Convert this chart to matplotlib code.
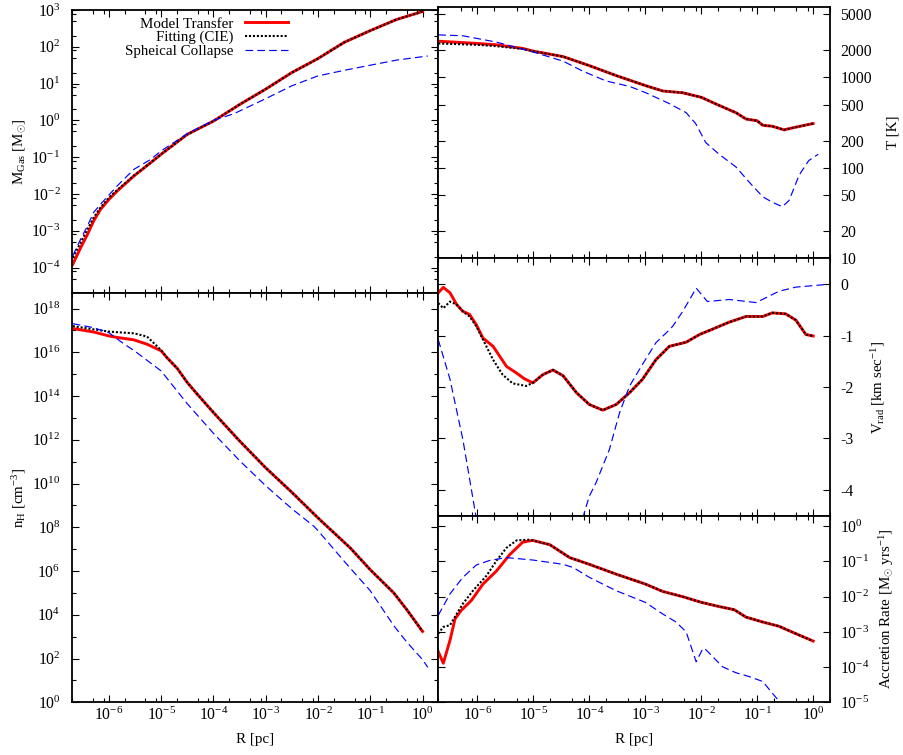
import numpy as np
import matplotlib
matplotlib.use("Agg")
import matplotlib.pyplot as plt
from matplotlib.ticker import FixedLocator, FuncFormatter, NullLocator, NullFormatter

plt.rcParams.update({
    "font.family": ["Liberation Serif", "DejaVu Serif"],
    "font.size": 10.8,
    "xtick.labelsize": 11.3,
    "ytick.labelsize": 11.3,
    "mathtext.fontset": "custom",
    "mathtext.rm": "Liberation Serif",
    "mathtext.it": "Liberation Serif:italic",
    "mathtext.bf": "Liberation Serif:bold",
    "axes.linewidth": 1.3,
})

# ---------------------------------------------------------------------------
# Profiles (radius and log-axis quantities stored as log10 values)
# ---------------------------------------------------------------------------
# Enclosed gas mass [Msun]
M_LR_MODEL = [-6.69, -6.54, -6.41, -6.29, -6.16, -6.0, -5.84, -5.52, -5.2, -5.0,
              -4.5, -4.0, -3.5, -3.0, -2.5, -2.0, -1.5, -1.0, -0.5, 0.0]
M_MODEL = [-3.91, -3.46, -3.10, -2.73, -2.42, -2.15, -1.92, -1.51, -1.15, -0.92,
           -0.38, -0.02, 0.43, 0.85, 1.30, 1.68, 2.12, 2.44, 2.74, 2.96]
M_FIT = [-3.73, -3.32, -2.96, -2.64, -2.37, -2.10, -1.89, -1.50, -1.15, -0.92,
         -0.38, -0.02, 0.43, 0.85, 1.30, 1.68, 2.12, 2.44, 2.74, 2.96]
M_LR_COLLAPSE = [-6.69, -6.54, -6.41, -6.29, -6.16, -6.0, -5.84, -5.52, -5.2, -5.0,
                 -4.5, -4.0, -3.61, -3.0, -2.5, -2.0, -1.5, -1.0, -0.49, 0.1]
M_COLLAPSE = [-3.68, -3.23, -2.87, -2.5, -2.28, -2.03, -1.78, -1.33, -1.06, -0.83,
              -0.36, 0.0, 0.18, 0.59, 0.94, 1.21, 1.36, 1.50, 1.64, 1.75]

# Hydrogen number density [cm^-3]
N_LR_MODEL = [-6.69, -6.29, -6.0, -5.84, -5.52, -5.27, -5.0, -4.89, -4.69, -4.5,
              -4.31, -4.0, -3.5, -3.0, -2.5, -2.0, -1.38, -1.0, -0.55, -0.3, 0.0]
N_MODEL = [17.09, 16.93, 16.75, 16.68, 16.57, 16.37, 16.07, 15.76, 15.26, 14.62,
           14.09, 13.25, 11.95, 10.72, 9.6, 8.43, 7.05, 6.06, 5.0, 4.23, 3.24]
N_FIT = [17.2, 17.05, 16.95, 16.92, 16.87, 16.72, 16.1, 15.76, 15.26, 14.62,
         14.09, 13.25, 11.95, 10.72, 9.6, 8.43, 7.05, 6.06, 5.0, 4.23, 3.24]
N_LR_COLLAPSE = [-6.69, -6.3, -6.0, -5.75, -5.5, -5.0, -4.5, -4.0, -3.5, -3.0,
                 -2.5, -2.08, -2.0, -1.5, -1.0, -0.55, -0.3, 0.0, 0.1]
N_COLLAPSE = [17.31, 17.13, 16.9, 16.45, 16.05, 15.15, 13.65, 12.3, 11.05, 9.9,
              8.85, 8.05, 7.85, 6.45, 5.1, 3.5, 2.75, 1.95, 1.6]

# Temperature [K]
T_LR_MODEL = [-6.70, -6.0, -5.66, -5.19, -5.0, -4.47, -4.0, -3.52, -3.0, -2.69,
              -2.33, -2.0, -1.68, -1.38, -1.2, -1.0, -0.9, -0.73, -0.52, -0.31, 0.0]
T_MODEL = [3.40, 3.375, 3.36, 3.32, 3.29, 3.23, 3.13, 3.02, 2.91, 2.85,
           2.83, 2.78, 2.69, 2.61, 2.54, 2.52, 2.47, 2.46, 2.42, 2.45, 2.49]
T_FIT = [3.375, 3.36, 3.345, 3.315, 3.29, 3.23, 3.13, 3.02, 2.91, 2.85,
         2.83, 2.78, 2.69, 2.61, 2.54, 2.52, 2.47, 2.46, 2.42, 2.45, 2.49]
T_LR_COLLAPSE = [-6.70, -6.26, -5.66, -5.0, -4.47, -4.12, -3.7, -3.28, -2.99, -2.57,
                 -2.27, -2.1, -1.92, -1.68, -1.38, -1.14, -0.9, -0.73, -0.55, -0.43,
                 -0.25, -0.08, 0.09]
T_COLLAPSE = [3.47, 3.46, 3.39, 3.28, 3.18, 3.07, 2.96, 2.90, 2.83, 2.71,
              2.61, 2.49, 2.28, 2.15, 2.01, 1.84, 1.68, 1.62, 1.57, 1.64,
              1.92, 2.08, 2.15]

# Radial velocity [km/s] (linear)
V_LR_MODEL = [-6.70, -6.61, -6.49, -6.37, -6.26, -6.14, -6.02, -5.90, -5.72, -5.48,
              -5.30, -5.16, -5.01, -4.83, -4.65, -4.47, -4.23, -4.0, -3.76, -3.52,
              -3.28, -3.05, -2.81, -2.57, -2.27, -2.03, -1.74, -1.50, -1.20, -0.90,
              -0.73, -0.49, -0.31, -0.13, 0.0]
V_MODEL = [-0.17, -0.065, -0.17, -0.40, -0.53, -0.59, -0.79, -1.05, -1.21, -1.60,
           -1.73, -1.84, -1.92, -1.76, -1.67, -1.78, -2.11, -2.34, -2.45, -2.34,
           -2.11, -1.85, -1.47, -1.21, -1.13, -0.98, -0.85, -0.74, -0.63, -0.63,
           -0.56, -0.58, -0.70, -0.98, -1.01]
V_LR_FIT = [-6.70, -6.61, -6.49, -6.37, -6.26, -6.14, -6.02, -5.90, -5.72, -5.55,
            -5.37, -5.13, -5.01, -4.83, -4.65, -4.47, -4.23, -4.0, -3.76, -3.52,
            -3.28, -3.05, -2.81, -2.57, -2.27, -2.03, -1.74, -1.50, -1.20, -0.90,
            -0.73, -0.49, -0.31, -0.13, 0.0]
V_FIT = [-0.37, -0.47, -0.34, -0.40, -0.53, -0.63, -0.82, -1.08, -1.47, -1.76,
         -1.93, -1.98, -1.92, -1.76, -1.67, -1.78, -2.11, -2.34, -2.45, -2.34,
         -2.11, -1.85, -1.47, -1.21, -1.13, -0.98, -0.85, -0.74, -0.63, -0.63,
         -0.56, -0.58, -0.70, -0.98, -1.01]
V_LR_COLLAPSE = [-6.70, -6.49, -6.26, -6.02, -5.0, -4.12, -4.0, -3.88, -3.64, -3.46,
                 -3.28, -3.05, -2.81, -2.57, -2.51, -2.33, -2.09, -1.89, -1.50, -1.02,
                 -0.61, -0.31, 0.22]
V_COLLAPSE = [-1.08, -1.85, -3.02, -4.55, np.nan, -4.55, -4.12, -3.86, -3.21, -2.5,
              -1.98, -1.56, -1.14, -0.89, -0.82, -0.53, -0.08, -0.34, -0.30, -0.36,
              -0.14, -0.06, -0.01]

# Accretion rate [Msun/yr]
A_LR_MODEL = [-6.70, -6.61, -6.49, -6.40, -6.29, -6.11, -5.90, -5.66, -5.42, -5.19,
              -5.01, -4.71, -4.35, -4.0, -3.52, -3.0, -2.69, -2.33, -2.0, -1.68,
              -1.41, -1.20, -0.90, -0.61, -0.31, 0.0]
A_MODEL = [-3.56, -3.89, -3.24, -2.63, -2.39, -2.11, -1.64, -1.27, -0.80, -0.45,
           -0.40, -0.52, -0.89, -1.08, -1.36, -1.64, -1.85, -2.00, -2.16, -2.28,
           -2.37, -2.58, -2.72, -2.84, -3.05, -3.26]
A_LR_FIT = [-6.70, -6.61, -6.49, -6.37, -6.26, -6.08, -5.84, -5.66, -5.48, -5.30,
            -5.07, -4.71, -4.35, -4.0, -3.52, -3.0, -2.69, -2.33, -2.0, -1.68,
            -1.41, -1.20, -0.90, -0.61, -0.31, 0.0]
A_FIT = [-3.05, -2.86, -2.81, -2.49, -2.2, -1.83, -1.41, -0.98, -0.61, -0.40,
         -0.38, -0.52, -0.89, -1.08, -1.36, -1.64, -1.85, -2.00, -2.16, -2.28,
         -2.37, -2.58, -2.72, -2.84, -3.05, -3.26]
A_LR_COLLAPSE = [-6.70, -6.49, -6.26, -6.02, -5.78, -5.48, -5.0, -4.47, -4.29, -4.0,
                 -3.52, -3.0, -2.69, -2.45, -2.27, -2.09, -1.97, -1.92, -1.62, -1.38,
                 -1.14, -0.90, -0.73, -0.58]
A_COLLAPSE = [-2.53, -1.92, -1.45, -1.10, -0.97, -0.89, -0.96, -1.08, -1.17, -1.45,
              -1.83, -2.16, -2.49, -2.72, -3.0, -3.85, -3.47, -3.50, -3.99, -4.16,
              -4.27, -4.41, -4.74, -5.02]

SERIES_LABELS = ["Model Transfer", "Fitting (CIE)", "Spheical Collapse"]
T_TICKS = [10, 20, 50, 100, 200, 500, 1000, 2000, 5000]
V_TICKS = [-4, -3, -2, -1, 0]


def p10(a):
    return np.power(10.0, np.asarray(a, dtype=float))


# ---------------------------------------------------------------------------
# Layout
# ---------------------------------------------------------------------------
W, H = 904, 755
fig = plt.figure(figsize=(W / 100, H / 100), dpi=100)


def rect(x0, x1, ytop, ybot):
    return [x0 / W, 1 - ybot / H, (x1 - x0) / W, (ybot - ytop) / H]


LX0, LX1, RX0, RX1 = 72.3, 438.3, 438.3, 830.0
ax_m = fig.add_axes(rect(LX0, LX1, 10.0, 293.3))
ax_n = fig.add_axes(rect(LX0, LX1, 293.3, 702.3))
ax_t = fig.add_axes(rect(RX0, RX1, 7.0, 258.3))
ax_v = fig.add_axes(rect(RX0, RX1, 258.3, 515.7))
ax_a = fig.add_axes(rect(RX0, RX1, 515.7, 702.3))

RED, BLACK, BLUE = "#ff0000", "#000000", "#0000ff"


def draw(ax, r1, y1, r2, y2, r3, y3, log_y=True):
    f = p10 if log_y else (lambda a: np.asarray(a, dtype=float))
    ax.plot(p10(r1), f(y1), color=RED, lw=2.1, label=SERIES_LABELS[0],
            solid_joinstyle="round")
    ax.plot(p10(r2), f(y2), color=BLACK, lw=1.5, ls=(0, (1.0, 0.9)),
            dash_capstyle="butt", label=SERIES_LABELS[1])
    ax.plot(p10(r3), f(y3), color=BLUE, lw=0.85, ls=(0, (6.5, 3.5)),
            label=SERIES_LABELS[2])


draw(ax_m, M_LR_MODEL, M_MODEL, M_LR_MODEL, M_FIT, M_LR_COLLAPSE, M_COLLAPSE)
draw(ax_n, N_LR_MODEL, N_MODEL, N_LR_MODEL, N_FIT, N_LR_COLLAPSE, N_COLLAPSE)
draw(ax_t, T_LR_MODEL, T_MODEL, T_LR_MODEL, T_FIT, T_LR_COLLAPSE, T_COLLAPSE)
draw(ax_v, V_LR_MODEL, V_MODEL, V_LR_FIT, V_FIT, V_LR_COLLAPSE, V_COLLAPSE,
     log_y=False)
draw(ax_a, A_LR_MODEL, A_MODEL, A_LR_FIT, A_FIT, A_LR_COLLAPSE, A_COLLAPSE)

# ---------------------------------------------------------------------------
# Axes, ticks and labels
# ---------------------------------------------------------------------------
pow_fmt = FuncFormatter(lambda v, p: r"$\mathregular{10^{%d}}$" % int(round(np.log10(v))))
x_major = [10.0 ** k for k in range(-6, 1)]
x_minor = [m * 10.0 ** k for k in range(-7, 1) for m in (2, 5, 8)]

for ax in (ax_m, ax_n, ax_t, ax_v, ax_a):
    ax.set_xscale("log")
    ax.set_xlim(2e-7, 2.0)
    ax.xaxis.set_major_locator(FixedLocator(x_major))
    ax.xaxis.set_minor_locator(FixedLocator(x_minor))
    ax.xaxis.set_major_formatter(pow_fmt)
    ax.xaxis.set_minor_formatter(NullFormatter())
    ax.tick_params(which="both", direction="in", top=True, bottom=True,
                   left=True, right=True, width=0.8)
    ax.tick_params(which="major", length=5.2)
    ax.tick_params(which="minor", length=2.8)
    ax.tick_params(axis="x", pad=3)

for ax in (ax_m, ax_t, ax_v):
    ax.tick_params(axis="x", labelbottom=False)

# Left column
ax_m.set_yscale("log")
ax_m.set_ylim(2e-5, 1e3)
ax_m.yaxis.set_major_locator(FixedLocator([10.0 ** k for k in range(-4, 4)]))
ax_m.yaxis.set_minor_locator(FixedLocator([m * 10.0 ** k for k in range(-5, 3) for m in (2, 5, 8)]))
ax_m.yaxis.set_major_formatter(pow_fmt)

ax_n.set_yscale("log")
ax_n.set_ylim(1.0, 5e18)
ax_n.yaxis.set_major_locator(FixedLocator([10.0 ** k for k in range(0, 19, 2)]))
ax_n.yaxis.set_minor_locator(FixedLocator([10.0 ** k for k in range(1, 19, 2)]))
ax_n.yaxis.set_major_formatter(pow_fmt)

for ax in (ax_m, ax_n):
    ax.yaxis.set_minor_formatter(NullFormatter())
    ax.tick_params(axis="y", labelleft=True, labelright=False, pad=8.5)

# Right column
ax_t.set_yscale("log")
ax_t.set_ylim(10, 6000)
ax_t.yaxis.set_major_locator(FixedLocator(T_TICKS))
ax_t.yaxis.set_minor_locator(NullLocator())
ax_t.yaxis.set_major_formatter(FuncFormatter(lambda v, p: "%d" % round(v)))

ax_v.set_ylim(-4.5, 0.5)
ax_v.yaxis.set_major_locator(FixedLocator(V_TICKS))
ax_v.yaxis.set_minor_locator(NullLocator())
ax_v.yaxis.set_major_formatter(FuncFormatter(lambda v, p: "%d" % round(v)))

ax_a.set_yscale("log")
ax_a.set_ylim(1e-5, 2.0)
ax_a.yaxis.set_major_locator(FixedLocator([10.0 ** k for k in range(-5, 1)]))
ax_a.yaxis.set_minor_locator(NullLocator())
ax_a.yaxis.set_major_formatter(pow_fmt)

for ax in (ax_t, ax_v, ax_a):
    ax.yaxis.set_minor_formatter(NullFormatter())
    ax.tick_params(axis="y", labelleft=False, labelright=True, pad=7.5)
    ax.yaxis.set_label_position("right")

# Axis titles
ax_m.set_ylabel(r"M$_{\mathregular{Gas}}$ [M$_{\odot}$]")
ax_m.yaxis.set_label_coords(-0.12, 0.5)
ax_n.set_ylabel(r"n$_{\mathregular{H}}$ [cm$^{\mathregular{-3}}$]")
ax_n.yaxis.set_label_coords(-0.12, 0.5)

ax_t.set_ylabel("T [K]")
ax_t.yaxis.set_label_coords(1.145, 0.5)
ax_v.set_ylabel(r"V$_{\mathregular{rad}}$ [km sec$^{\mathregular{-1}}$]")
ax_v.yaxis.set_label_coords(1.10, 0.5)
ax_a.set_ylabel(r"Accretion Rate [M$_{\odot}$ yrs$^{\mathregular{-1}}$]")
ax_a.yaxis.set_label_coords(1.122, 0.5)

ax_n.set_xlabel("R [pc]")
ax_n.xaxis.set_label_coords(0.5, -(733 - 702.3) / (702.3 - 293.3))
ax_a.set_xlabel("R [pc]")
ax_a.xaxis.set_label_coords(0.5, -(733 - 702.3) / (702.3 - 515.7))

# Legend
ax_m.legend(loc="upper right", bbox_to_anchor=(0.589, 0.975),
            bbox_transform=ax_m.transAxes, frameon=False, markerfirst=False,
            handlelength=2.85, handletextpad=0.75, labelspacing=0.0,
            borderpad=0.0, borderaxespad=0.0)

fig.savefig("out.png", dpi=100)
